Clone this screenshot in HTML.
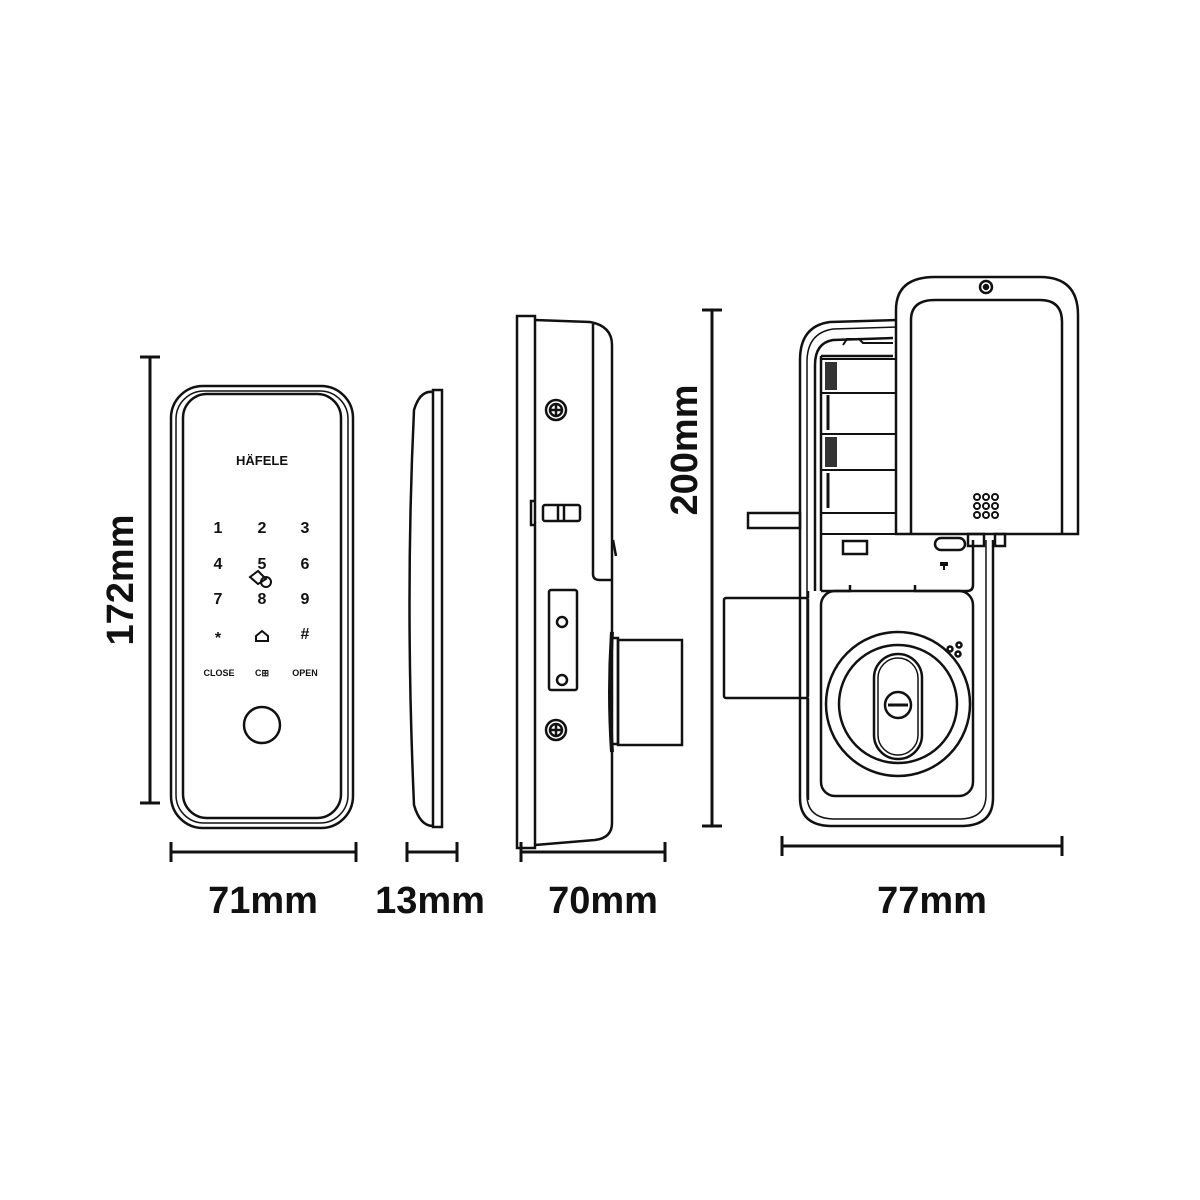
<!DOCTYPE html>
<html><head><meta charset="utf-8"><style>html,body{margin:0;padding:0;background:#fff}svg{display:block}</style></head>
<body>
<svg width="1200" height="1200" viewBox="0 0 1200 1200" xmlns="http://www.w3.org/2000/svg" fill="none" stroke="#111" stroke-width="2.5" font-family="Liberation Sans, sans-serif">
<g stroke-width="3">
<line x1="150" y1="357" x2="150" y2="803"/><line x1="140" y1="357" x2="160" y2="357"/><line x1="140" y1="803" x2="160" y2="803"/>
<line x1="171" y1="852" x2="356" y2="852"/><line x1="171" y1="842" x2="171" y2="862"/><line x1="356" y1="842" x2="356" y2="862"/>
<line x1="407" y1="852" x2="457" y2="852"/><line x1="407" y1="842" x2="407" y2="862"/><line x1="457" y1="842" x2="457" y2="862"/>
<line x1="521" y1="852" x2="665" y2="852"/><line x1="521" y1="842" x2="521" y2="862"/><line x1="665" y1="842" x2="665" y2="862"/>
<line x1="782" y1="846" x2="1062" y2="846"/><line x1="782" y1="836" x2="782" y2="856"/><line x1="1062" y1="836" x2="1062" y2="856"/>
<line x1="712" y1="310" x2="712" y2="826"/><line x1="702" y1="310" x2="722" y2="310"/><line x1="702" y1="826" x2="722" y2="826"/>
</g>
<g fill="#111" stroke="none" font-weight="bold" font-size="38" text-anchor="middle">
<text x="263" y="913">71mm</text>
<text x="430" y="913">13mm</text>
<text x="603" y="913">70mm</text>
<text x="932" y="913">77mm</text>
<text transform="translate(133,580) rotate(-90)">172mm</text>
<text transform="translate(697,450) rotate(-90)">200mm</text>
</g>
<rect x="171" y="386" width="182" height="442" rx="32"/>
<rect x="176" y="391" width="172" height="432" rx="28" stroke-width="1.5"/>
<rect x="183" y="394" width="158" height="424" rx="24"/>
<g fill="#111" stroke="none" font-weight="bold" text-anchor="middle">
<text x="262" y="465" font-size="13">HÄFELE</text>
<g font-size="16">
<text x="218" y="533">1</text><text x="262" y="533">2</text><text x="305" y="533">3</text>
<text x="218" y="569">4</text><text x="262" y="569">5</text><text x="305" y="569">6</text>
<text x="218" y="604">7</text><text x="262" y="604">8</text><text x="305" y="604">9</text>
<text x="218" y="643">*</text><text x="305" y="639">#</text>
</g>
<g font-size="9"><text x="219" y="676">CLOSE</text><text x="262" y="676">C⊞</text><text x="305" y="676">OPEN</text></g>
</g>
<path d="M256 636 l6 -5 l6 5 v5 h-12z" stroke-width="2"/>
<path d="M250 577 l8 -6 l8 8 l-8 5z" stroke-width="2"/><circle cx="266" cy="582" r="5" stroke-width="2"/>
<circle cx="262" cy="725" r="18" stroke-width="2.5"/>
<rect x="433" y="390" width="9" height="437" stroke-width="2.5"/>
<path d="M433 392 Q420 390 414 410 Q405 600 414 805 Q420 826 433 826" />
<rect x="517" y="316" width="18" height="532"/>
<path d="M535 320 L590 322 Q612 326 612 345 L612 823 Q612 838 595 840 L535 845"/>
<path d="M593 324 L593 574 Q593 580 600 580 L612 580"/>
<line x1="613" y1="540" x2="616" y2="556"/>
<g stroke-width="2.5"><circle cx="556" cy="410" r="10"/><circle cx="556" cy="410" r="6"/><line x1="550" y1="410" x2="562" y2="410"/><line x1="556" y1="404" x2="556" y2="416"/>
<circle cx="556" cy="730" r="10"/><circle cx="556" cy="730" r="6"/><line x1="550" y1="730" x2="562" y2="730"/><line x1="556" y1="724" x2="556" y2="736"/></g>
<path d="M535 501 h-4 v24 h4"/>
<rect x="543" y="505" width="37" height="16" rx="2"/><line x1="558" y1="505" x2="558" y2="521"/><line x1="564" y1="505" x2="564" y2="521"/>
<rect x="549" y="590" width="28" height="100" rx="2"/><circle cx="562" cy="622" r="5"/><circle cx="562" cy="680" r="5"/>
<path d="M612 632 Q608 692 612 752" stroke-width="4"/>
<path d="M612 638 h6 v106 h-6"/>
<rect x="618" y="640" width="64" height="105"/>
<path d="M899 320 L830 322 Q800 326 800 360 L800 798 Q800 825 830 826 L963 826 Q993 825 993 798 L993 540"/>
<path d="M899 327 L833 329 Q807 333 807 362 L807 795 Q807 818 833 819 L961 819 Q986 818 986 795 L986 540" stroke-width="1.5"/>
<path d="M893 338 L833 340 Q815 343 815 365 L815 591"/>
<path d="M821 356 L893 356 M821 356 L821 591 M973 540 L973 585 Q973 591 967 591 L915 591 L915 585 M821 591 L850 591 L850 585"/>
<path d="M843 345 l4 -6 h12 l4 4 h30" stroke-width="2"/>
<g stroke-width="2"><line x1="821" y1="359" x2="897" y2="359"/><line x1="821" y1="393" x2="897" y2="393"/><line x1="821" y1="434" x2="897" y2="434"/><line x1="821" y1="470" x2="897" y2="470"/><line x1="821" y1="513" x2="897" y2="513"/><line x1="821" y1="534" x2="897" y2="534"/></g>
<rect x="825" y="362" width="12" height="28" fill="#333" stroke="none"/><rect x="825" y="437" width="12" height="30" fill="#333" stroke="none"/>
<line x1="828" y1="395" x2="828" y2="430" stroke-width="3"/><line x1="828" y1="473" x2="828" y2="508" stroke-width="3"/>
<rect x="843" y="541" width="24" height="13"/>
<rect x="935" y="538" width="30" height="12" rx="6"/>
<path d="M940 562 h8 v4 h-3 v4 h-2 v-4 h-3z" fill="#111" stroke="none"/>
<rect x="748" y="513" width="52" height="15"/>
<rect x="821" y="591" width="152" height="205" rx="14"/>
<rect x="724" y="598" width="84" height="100" rx="2"/>
<path d="M808 598 V591 M808 698 V800"/>
<circle cx="898" cy="704" r="72"/><circle cx="898" cy="704" r="59"/>
<rect x="874" y="654" width="48" height="105" rx="24"/><rect x="878" y="658" width="40" height="97" rx="20" stroke-width="1.5"/>
<circle cx="898" cy="705" r="13"/><line x1="888" y1="705" x2="908" y2="705" stroke-width="3"/>
<circle cx="950" cy="649" r="2.5"/><circle cx="959" cy="645" r="2.5"/><circle cx="958" cy="654" r="2.5"/>
<path d="M896 534 L896 310 Q896 277 935 277 L1040 277 Q1078 277 1078 315 L1078 534 Z" fill="#fff"/>
<path d="M911 534 L911 320 Q911 300 935 300 L1040 300 Q1062 300 1062 322 L1062 534"/>
<circle cx="986" cy="287" r="6"/><circle cx="986" cy="287" r="2" fill="#111"/>
<g stroke-width="2">
<circle cx="977" cy="497" r="3"/><circle cx="986" cy="497" r="3"/><circle cx="995" cy="497" r="3"/>
<circle cx="977" cy="506" r="3"/><circle cx="986" cy="506" r="3"/><circle cx="995" cy="506" r="3"/>
<circle cx="977" cy="515" r="3"/><circle cx="986" cy="515" r="3"/><circle cx="995" cy="515" r="3"/>
</g>
<rect x="968" y="534" width="16" height="12"/><rect x="995" y="534" width="10" height="12"/>
</svg>
</body></html>
